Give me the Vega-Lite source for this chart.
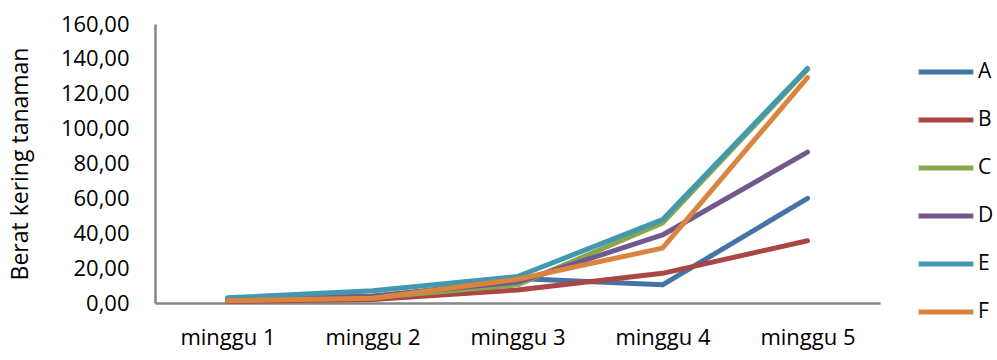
{
  "$schema": "https://vega.github.io/schema/vega-lite/v6.json",
  "width": 725,
  "height": 279,
  "autosize": "none",
  "padding": {"left": 155, "top": 24, "right": 117, "bottom": 57},
  "background": "white",
  "config": {
    "view": {"stroke": null},
    "font": "Open Sans"
  },
  "data": {
    "values": [
      {"minggu": "minggu 1", "seri": "A", "berat": 1.5},
      {"minggu": "minggu 2", "seri": "A", "berat": 3.0},
      {"minggu": "minggu 3", "seri": "A", "berat": 14.0},
      {"minggu": "minggu 4", "seri": "A", "berat": 10.4},
      {"minggu": "minggu 5", "seri": "A", "berat": 60.0},
      {"minggu": "minggu 1", "seri": "B", "berat": 1.0},
      {"minggu": "minggu 2", "seri": "B", "berat": 2.0},
      {"minggu": "minggu 3", "seri": "B", "berat": 7.5},
      {"minggu": "minggu 4", "seri": "B", "berat": 17.0},
      {"minggu": "minggu 5", "seri": "B", "berat": 35.7},
      {"minggu": "minggu 1", "seri": "C", "berat": 1.5},
      {"minggu": "minggu 2", "seri": "C", "berat": 3.0},
      {"minggu": "minggu 3", "seri": "C", "berat": 10.4},
      {"minggu": "minggu 4", "seri": "C", "berat": 45.9},
      {"minggu": "minggu 5", "seri": "C", "berat": 134.0},
      {"minggu": "minggu 1", "seri": "D", "berat": 2.0},
      {"minggu": "minggu 2", "seri": "D", "berat": 4.0},
      {"minggu": "minggu 3", "seri": "D", "berat": 12.0},
      {"minggu": "minggu 4", "seri": "D", "berat": 39.0},
      {"minggu": "minggu 5", "seri": "D", "berat": 86.5},
      {"minggu": "minggu 1", "seri": "E", "berat": 3.0},
      {"minggu": "minggu 2", "seri": "E", "berat": 7.0},
      {"minggu": "minggu 3", "seri": "E", "berat": 15.2},
      {"minggu": "minggu 4", "seri": "E", "berat": 47.8},
      {"minggu": "minggu 5", "seri": "E", "berat": 134.5},
      {"minggu": "minggu 1", "seri": "F", "berat": 1.3},
      {"minggu": "minggu 2", "seri": "F", "berat": 2.7},
      {"minggu": "minggu 3", "seri": "F", "berat": 13.6},
      {"minggu": "minggu 4", "seri": "F", "berat": 31.5},
      {"minggu": "minggu 5", "seri": "F", "berat": 129.3}
    ]
  },
  "mark": {"type": "line", "strokeWidth": 5, "strokeCap": "round", "strokeJoin": "round"},
  "encoding": {
    "x": {
      "field": "minggu",
      "type": "ordinal",
      "scale": {"type": "point", "padding": 0.5},
      "axis": {
        "title": null,
        "labelAngle": 0,
        "labelFontSize": 22,
        "labelColor": "#000000",
        "labelPadding": 24,
        "ticks": false,
        "domainColor": "#868686",
        "domainWidth": 2.5,
        "grid": false
      }
    },
    "y": {
      "field": "berat",
      "type": "quantitative",
      "scale": {"domain": [0, 160], "nice": false},
      "axis": {
        "title": "Berat kering tanaman",
        "titleFontSize": 23,
        "titleFontWeight": "normal",
        "titleColor": "#000000",
        "titlePadding": 28,
        "values": [0, 20, 40, 60, 80, 100, 120, 140, 160],
        "labelExpr": "replace(format(datum.value, '.2f'), '.', ',')",
        "labelFontSize": 22,
        "labelColor": "#000000",
        "labelPadding": 26,
        "ticks": false,
        "domainColor": "#868686",
        "domainWidth": 2.5,
        "grid": false
      }
    },
    "color": {
      "field": "seri",
      "type": "nominal",
      "scale": {
        "domain": ["A", "B", "C", "D", "E", "F"],
        "range": ["#4572A7", "#AA4643", "#89A54E", "#71588F", "#4198AF", "#DB843D"]
      },
      "legend": {
        "title": null,
        "orient": "none",
        "legendX": 761,
        "legendY": 24,
        "symbolType": "stroke",
        "symbolSize": 3000,
        "symbolStrokeWidth": 5,
        "labelFontSize": 21,
        "labelColor": "#000000",
        "labelOffset": 2,
        "clipHeight": 48,
        "rowPadding": 0
      }
    }
  }
}
